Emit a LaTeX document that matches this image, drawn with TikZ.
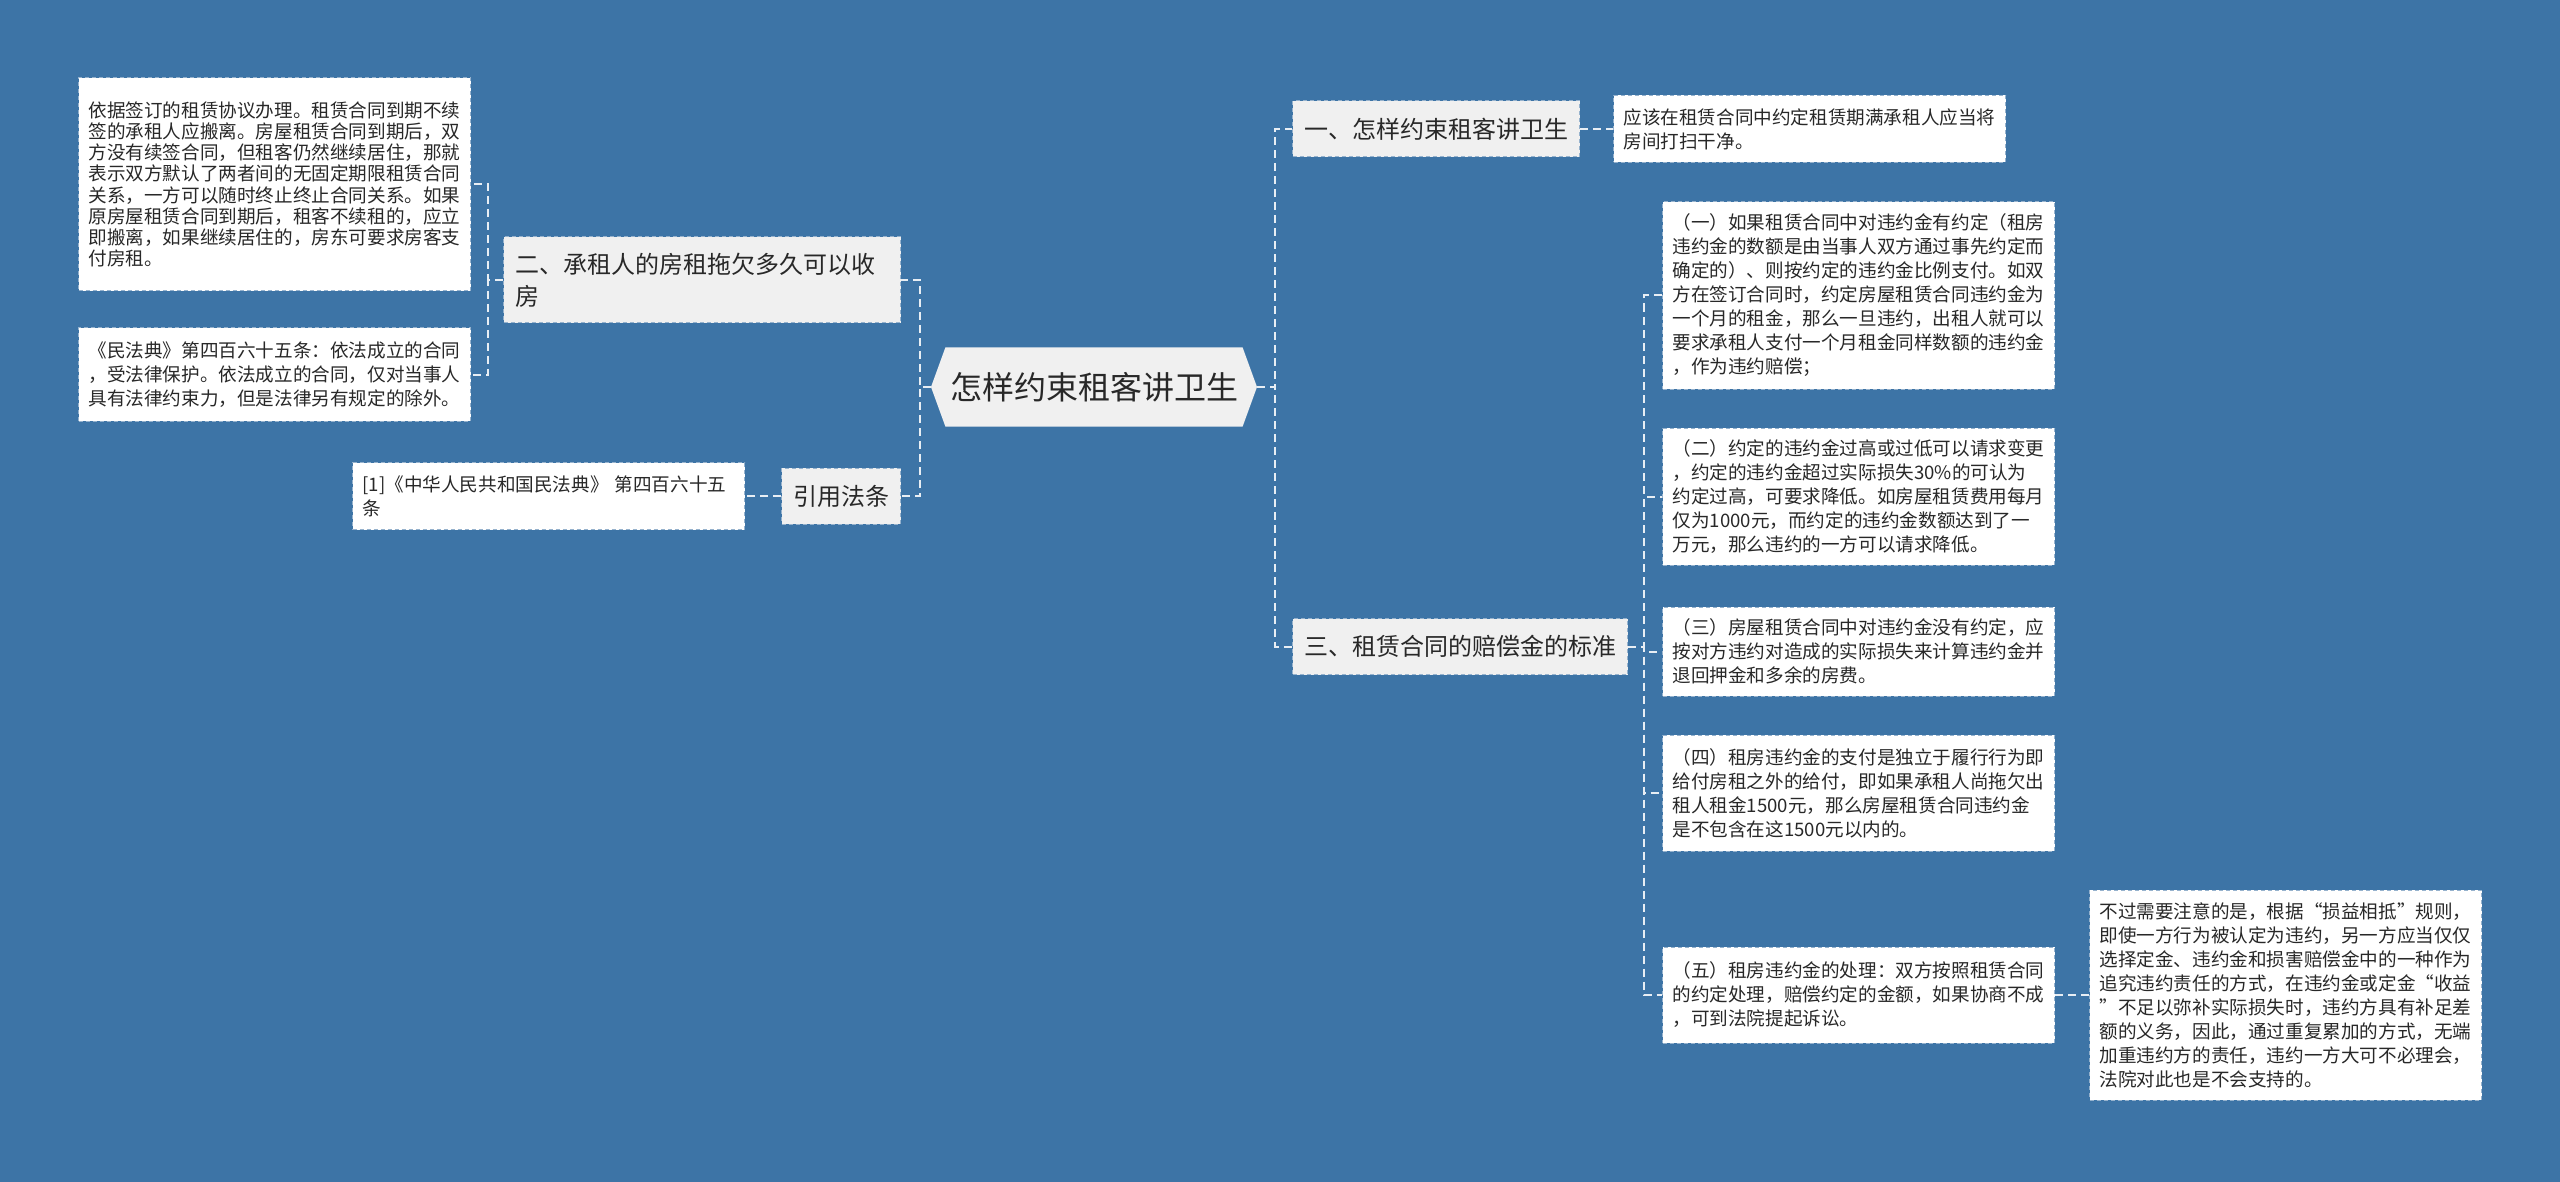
\documentclass[tikz,border=0pt]{standalone}
\usepackage{fontspec}
\setmainfont{Noto Sans CJK SC}
\usetikzlibrary{positioning,shapes.symbols}
\definecolor{bgblue}{RGB}{61,116,166}
\definecolor{boxgray}{RGB}{240,240,240}
\definecolor{edgeblue}{RGB}{150,178,205}
\definecolor{linkwhite}{RGB}{232,238,244}
\definecolor{txt}{RGB}{40,40,40}

\begin{document}
\begin{tikzpicture}[x=1pt,y=1pt,every node/.style={text=txt},
  topic/.style={draw=edgeblue,fill=boxgray,dash pattern=on 2pt off 1.5pt,line width=0.5pt,font=\fontsize{12}{16}\selectfont,inner xsep=5.75pt,minimum height=28pt},
  leaf/.style={draw=edgeblue,fill=white,dash pattern=on 2pt off 1.5pt,line width=0.5pt,font=\fontsize{9.3}{12}\selectfont,text width=186pt,align=left,inner xsep=5pt},
  link/.style={draw=linkwhite,line width=1pt,dash pattern=on 4pt off 2.5pt}]
\fill[bgblue] (0,0) rectangle (1280,-591);
\node[signal,signal to=west and east,signal pointer angle=140,fill=boxgray,minimum width=163pt,minimum height=39.5pt,inner sep=0pt,font=\fontsize{16}{20}\selectfont] (root) at (547,-193.5) {怎样约束租客讲卫生};
\node[topic,anchor=west] (b1) at (646,-64.5) {一、怎样约束租客讲卫生};
\node[leaf,right=16.5pt of b1,minimum height=33.5pt] (l1) {应该在租赁合同中约定租赁期满承租人应当将\\房间打扫干净。};
\node[topic,anchor=west] (b3) at (646,-323.25) {三、租赁合同的赔偿金的标准};
\node[leaf,anchor=west,minimum height=93.5pt] (r1) at (831,-147.75) {（一）如果租赁合同中对违约金有约定（租房\\违约金的数额是由当事人双方通过事先约定而\\确定的）、则按约定的违约金比例支付。如双\\方在签订合同时，约定房屋租赁合同违约金为\\一个月的租金，那么一旦违约，出租人就可以\\要求承租人支付一个月租金同样数额的违约金\\，作为违约赔偿；};
\node[leaf,anchor=west,minimum height=68.5pt] (r2) at (831,-248.25) {（二）约定的违约金过高或过低可以请求变更\\，约定的违约金超过实际损失30\%的可认为\\约定过高，可要求降低。如房屋租赁费用每月\\仅为1000元，而约定的违约金数额达到了一\\万元，那么违约的一方可以请求降低。};
\node[leaf,anchor=west,minimum height=44.5pt] (r3) at (831,-325.75) {（三）房屋租赁合同中对违约金没有约定，应\\按对方违约对造成的实际损失来计算违约金并\\退回押金和多余的房费。};
\node[leaf,anchor=west,minimum height=58pt] (r4) at (831,-396.5) {（四）租房违约金的支付是独立于履行行为即\\给付房租之外的给付，即如果承租人尚拖欠出\\租人租金1500元，那么房屋租赁合同违约金\\是不包含在这1500元以内的。};
\node[leaf,anchor=west,minimum height=48pt] (r5) at (831,-497.5) {（五）租房违约金的处理：双方按照租赁合同\\的约定处理，赔偿约定的金额，如果协商不成\\，可到法院提起诉讼。};
\node[leaf,right=17pt of r5,minimum height=105pt] (r5n) {不过需要注意的是，根据“损益相抵”规则，\\即使一方行为被认定为违约，另一方应当仅仅\\选择定金、违约金和损害赔偿金中的一种作为\\追究违约责任的方式，在违约金或定金“收益\\”不足以弥补实际损失时，违约方具有补足差\\额的义务，因此，通过重复累加的方式，无端\\加重违约方的责任，违约一方大可不必理会，\\法院对此也是不会支持的。};
\node[topic,anchor=east,text width=187pt,align=left,minimum height=43pt] (b2) at (450.5,-140) {二、承租人的房租拖欠多久可以收\\房};
\node[leaf,anchor=west,minimum height=106.5pt,font=\fontsize{9.3}{10.6}\selectfont] (l2a) at (39,-92.25) {依据签订的租赁协议办理。租赁合同到期不续\\签的承租人应搬离。房屋租赁合同到期后，双\\方没有续签合同，但租客仍然继续居住，那就\\表示双方默认了两者间的无固定期限租赁合同\\关系，一方可以随时终止终止合同关系。如果\\原房屋租赁合同到期后，租客不续租的，应立\\即搬离，如果继续居住的，房东可要求房客支\\付房租。};
\node[leaf,anchor=west,minimum height=46.5pt] (l2b) at (39,-187.25) {《民法典》第四百六十五条：依法成立的合同\\，受法律保护。依法成立的合同，仅对当事人\\具有法律约束力，但是法律另有规定的除外。};
\node[topic,anchor=east] (cite) at (450.5,-248) {引用法条};
\node[leaf,left=18pt of cite,minimum height=33.5pt] (lcite) {[1]《中华人民共和国民法典》 第四百六十五\\条};
\draw[link] (root.east) -- ++(9,0) |- (b1.west);
\draw[link] (root.east) -- ++(9,0) |- (b3.west);
\draw[link] (root.west) -- ++(-5.5,0) |- (b2.east);
\draw[link] (root.west) -- ++(-5.5,0) |- (cite.east);
\draw[link] (b1.east) -- (l1.west);
\draw[link] (b2.west) -- ++(-7.5,0) |- (l2a.east);
\draw[link] (b2.west) -- ++(-7.5,0) |- (l2b.east);
\draw[link] (cite.west) -- (lcite.east);
\draw[link] (b3.east) -- ++(8,0) |- (r1.west);
\draw[link] (b3.east) -- ++(8,0) |- (r2.west);
\draw[link] (b3.east) -- ++(8,0) |- (r3.west);
\draw[link] (b3.east) -- ++(8,0) |- (r4.west);
\draw[link] (b3.east) -- ++(8,0) |- (r5.west);
\draw[link] (r5.east) -- (r5n.west);
\end{tikzpicture}
\end{document}
